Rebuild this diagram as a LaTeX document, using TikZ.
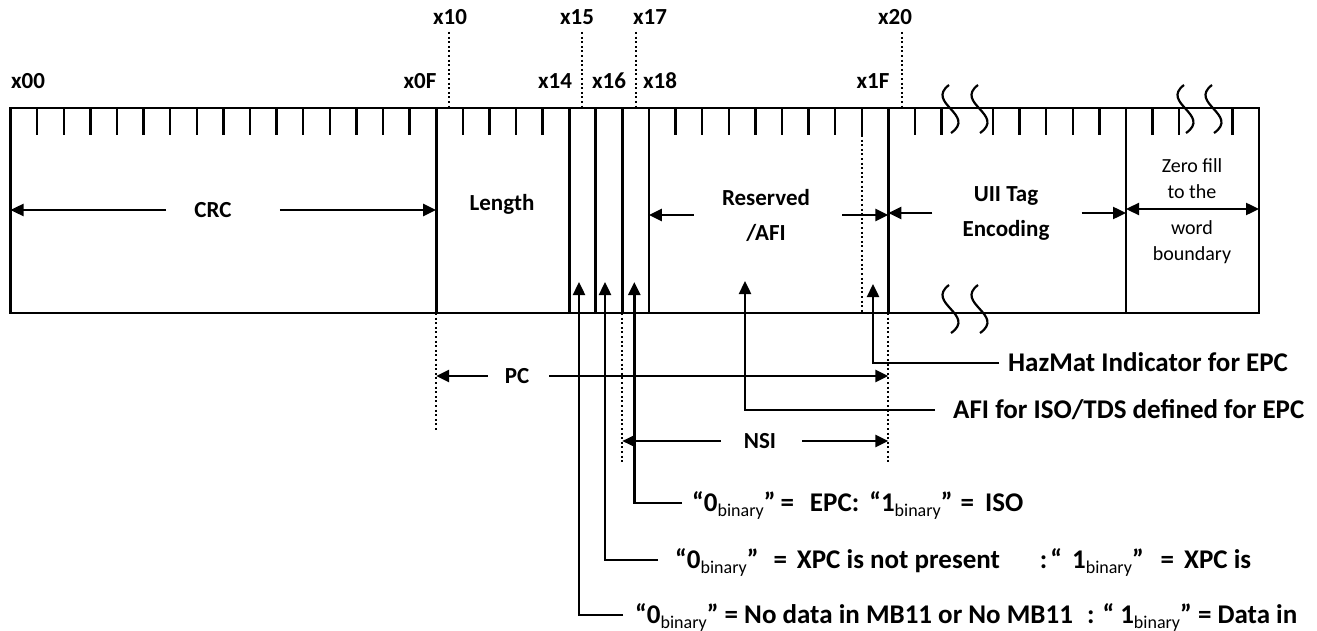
\documentclass[tikz,border=0pt]{standalone}
\usepackage{fontspec}
\setmainfont{Carlito}
\usetikzlibrary{arrows.meta}
\tikzset{
  frame/.style={line width=2.8pt},
  tickmark/.style={line width=2.4pt},
  guide/.style={line width=2pt, dash pattern=on 2pt off 2.6pt},
  arr/.style={-{Triangle[length=13pt,width=12pt]}, line width=2.4pt},
  dblarr/.style={{Triangle[length=13pt,width=12pt]}-{Triangle[length=13pt,width=12pt]}, line width=2.4pt},
  tear/.style={line width=2.2pt},
  bitlbl/.style={font=\bfseries\fontsize{23}{23}\selectfont, inner sep=0pt, text height=15pt, text depth=0pt},
  fieldlbl/.style={font=\bfseries\fontsize{23}{35}\selectfont, align=center, inner sep=0pt},
  filllbl/.style={font=\fontsize{20}{26}\selectfont, align=center, inner sep=0pt},
  note/.style={font=\bfseries\fontsize{27}{27}\selectfont, inner sep=0pt, text height=17pt, text depth=0pt, anchor=west}
}
\newcommand{\bsub}[1]{#1\raisebox{-5pt}{\mdseries\fontsize{18}{18}\selectfont binary}}

\begin{document}
\begin{tikzpicture}[x=1pt, y=-1pt]
\useasboundingbox (0,0) rectangle (1317,631);
\def\bw{26.6}
% frame, field dividers and bit ticks
\draw[frame] (10.5,108) rectangle (1259,313);
\foreach \k in {16,21,22,23,24,33}
  \draw[frame] (10.5+\bw*\k,108) -- ++(0,205);
\draw[frame] (1126,108) -- (1126,313);
\foreach \k in {1,...,15,17,18,19,20,25,26,...,32,34,35}
  \draw[tickmark] (10.5+\bw*\k,108) -- ++(0,27);
\foreach \k in {0,1,2,3,4,6,7,9}
  \draw[tickmark] (993+\bw*\k,108) -- ++(0,27);
% tear marks
\foreach \cx/\cy in {951/109,980/109,1186/109,1214/109,951/309,980/309}
  \draw[tear] (\cx-2,\cy-24) .. controls (\cx-26,\cy-6) and (\cx+26,\cy+6) .. (\cx,\cy+24);
% dotted guides
\foreach \xx in {449.4,582.4,635.6,901.6}
  \draw[guide] (\xx,32) -- (\xx,108);
\draw[guide] (861.7,135) -- (861.7,313);
\coordinate (g16) at (436.1,313);
\coordinate (g23) at (622.3,313);
\coordinate (g33) at (888.3,313);
\draw[guide] (g16) -- ++(0,117);
\draw[guide] (g23) -- ++(0,150);
\draw[guide] (g33) -- ++(0,149);
% bit addresses
\node[bitlbl] (a00) at (28,81) {x00};
\node[bitlbl] (a0F) at (420,81) {x0F};
\node[bitlbl] (a14) at (555,81) {x14};
\node[bitlbl] (a16) at (609,81) {x16};
\node[bitlbl] (a18) at (660,81) {x18};
\node[bitlbl] (a1F) at (873,81) {x1F};
\node[bitlbl] (a10) at (450,17) {x10};
\node[bitlbl] (a15) at (577,17) {x15};
\node[bitlbl] (a17) at (650,17) {x17};
\node[bitlbl] (a20) at (895,17) {x20};
% field labels
\coordinate (v0) at (10.5,210);
\coordinate (v16) at (436.1,210);
\coordinate (v24) at (648.9,210);
\coordinate (v33) at (888.3,210);
\coordinate (vu) at (1126,209);
\coordinate (vr) at (1259,209);
\node[fieldlbl] (crc) at (213,210) {CRC};
\node[fieldlbl] (len) at (502,204) {Length};
\node[fieldlbl] (rsv) at (766,215) {Reserved\\/AFI};
\node[fieldlbl] (uii) at (1006,213) {UII Tag\\Encoding};
\node[filllbl] (zf1) at (1192,179) {Zero fill\\to the};
\node[filllbl] (zf2) at (1192,242) {word\\boundary};
\draw[arr] ([xshift=-28pt]crc.west) -- (v0);
\draw[arr] ([xshift=48pt]crc.east) -- (crc.east -| v16);
\draw[arr] ([xshift=-28pt]rsv.west) -- (rsv.west -| v24);
\draw[arr] ([xshift=32pt]rsv.east) -- (rsv.east -| v33);
\draw[arr] ([xshift=-30pt]uii.west) -- (uii.west -| v33);
\draw[arr] ([xshift=32pt]uii.east) -- (uii.east -| vu);
\draw[dblarr] (vu) -- (vr);
% PC and NSI spans
\node[fieldlbl] (pc) at (517,376) {PC};
\node[fieldlbl] (nsi) at (760,441) {NSI};
\draw[arr] ([xshift=-17pt]pc.west) -- (pc.west -| g16);
\draw[arr] ([xshift=20pt]pc.east) -- (pc.east -| g33);
\draw[arr] ([xshift=-23pt]nsi.west) -- (nsi.west -| g23);
\draw[arr] ([xshift=26pt]nsi.east) -- (nsi.east -| g33);
% bit callouts
\coordinate (tU) at (579,282);
\coordinate (tX) at (605,282);
\coordinate (tT) at (634.3,282);
\coordinate (tA) at (745,281);
\coordinate (tH) at (873,284);
\node[note] (hazmat) at (1008,363) {HazMat Indicator for EPC};
\node[note] (afi) at (953,410) {AFI for ISO/TDS defined for EPC};
\node[note] (tbit) at (692,503) {“\bsub{0}”\hspace{5pt}=\hspace{16pt}EPC:\hspace{10pt}“\bsub{1}”\hspace{8pt}=\hspace{11pt}ISO};
\node[note] (xbit) at (675,560) {“\bsub{0}”\hspace{15pt}=\hspace{10pt}XPC is not present\hspace{40pt}:\hspace{3pt}“\hspace{10pt}\bsub{1}”\hspace{17pt}=\hspace{10pt}XPC is};
\node[note] (ubit) at (635,615) {“\bsub{0}” = No data in MB11 or No MB11\hspace{14pt}: “ \bsub{1}” = Data in};
\draw[arr] ([xshift=-9pt]hazmat.west) -| (tH);
\draw[arr] ([xshift=-18pt]afi.west) -| (tA);
\draw[arr] ([xshift=-10pt]tbit.west) -| (tT);
\draw[arr] ([xshift=-17pt]xbit.west) -| (tX);
\draw[arr] ([xshift=-12pt]ubit.west) -| (tU);
\end{tikzpicture}
\end{document}
